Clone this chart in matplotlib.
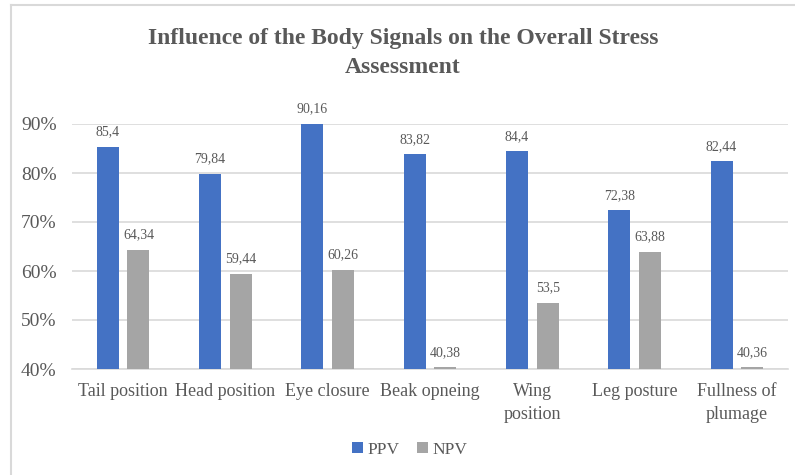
import numpy as np
import matplotlib.pyplot as plt
from matplotlib.lines import Line2D
from matplotlib.ticker import FuncFormatter

# ---------------------------------------------------------------------------
# Data
# ---------------------------------------------------------------------------
categories = ["Tail position", "Head position", "Eye closure", "Beak opneing",
              "Wing\nposition", "Leg posture", "Fullness of\nplumage"]
ppv = [85.4, 79.84, 90.16, 83.82, 84.4, 72.38, 82.44]
npv = [64.34, 59.44, 60.26, 40.38, 53.5, 63.88, 40.36]
ppv_labels = ["85,4", "79,84", "90,16", "83,82", "84,4", "72,38", "82,44"]
npv_labels = ["64,34", "59,44", "60,26", "40,38", "53,5", "63,88", "40,36"]

plt.rcParams['font.family'] = ['Liberation Serif', 'DejaVu Serif']
txt = "#595959"
blue = "#4472C4"
gray = "#A5A5A5"

fig = plt.figure(figsize=(7.95, 4.75), dpi=100)
ax = fig.add_axes([72 / 795, 1 - 369 / 475, 716 / 795, 245 / 475])

x = np.arange(len(categories))
w = 0.215
off = 0.15
bottom = 40
ax.bar(x - off, np.array(ppv) - bottom, w, bottom=bottom, color=blue,
       label="PPV", zorder=3)
ax.bar(x + off, np.array(npv) - bottom, w, bottom=bottom, color=gray,
       label="NPV", zorder=3)

for xi, v, s in zip(x, ppv, ppv_labels):
    ax.text(xi - off, v + 1.7, s, ha="center", va="bottom", fontsize=10, color=txt)
for xi, v, s in zip(x, npv, npv_labels):
    ax.text(xi + off, v + 1.7, s, ha="center", va="bottom", fontsize=10, color=txt)

ax.set_xlim(-0.5, len(categories) - 0.5)
ax.set_ylim(40, 90)
ax.set_yticks([40, 50, 60, 70, 80, 90])
ax.yaxis.set_major_formatter(FuncFormatter(lambda v, p: f"{v:.0f}%"))
ax.set_xticks(x)
ax.set_xticklabels(categories, fontsize=13, color=txt, linespacing=1.45)
ax.tick_params(axis="y", labelsize=14, labelcolor=txt, length=0, pad=11)
ax.tick_params(axis="x", length=0, pad=10)
ax.grid(axis="y", color="#D9D9D9", linewidth=1.2, zorder=0)
ax.set_axisbelow(True)
for sp in ["top", "right", "left"]:
    ax.spines[sp].set_visible(False)
ax.spines["bottom"].set_color("#D9D9D9")
ax.spines["bottom"].set_linewidth(1.2)

fig.text(403 / 795, 1 - 53 / 475,
         "Influence of the Body Signals on the Overall Stress\nAssessment",
         ha="center", va="center", fontsize=17, fontweight="bold", color=txt,
         linespacing=1.55)

fig.legend(loc="center", bbox_to_anchor=(410 / 795, 1 - 450 / 475), ncol=2,
           frameon=False, fontsize=12.5, handlelength=0.6, handleheight=0.6,
           handletextpad=0.3, columnspacing=1.0, labelcolor=txt)

# partial frame: top and left edge
fig.add_artist(Line2D([10.5 / 795, 1], [1 - 4.5 / 475, 1 - 4.5 / 475],
                      color="#D9D9D9", linewidth=1.5))
fig.add_artist(Line2D([10.5 / 795, 10.5 / 795], [0, 1 - 4.5 / 475],
                      color="#D9D9D9", linewidth=1.5))

fig.savefig("out.png", dpi=100)
